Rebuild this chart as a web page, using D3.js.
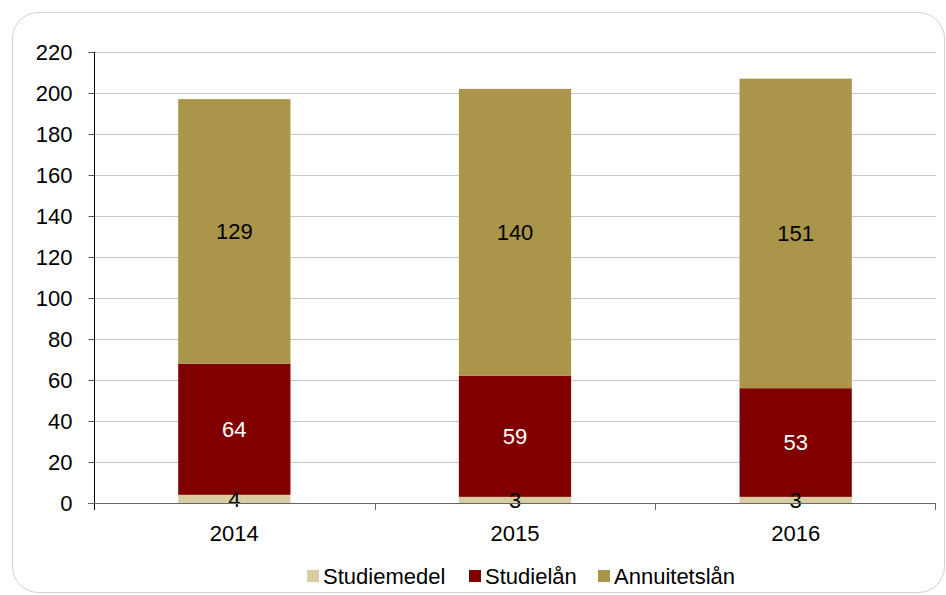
<!DOCTYPE html>
<html>
<head>
<meta charset="utf-8">
<script src="https://cdn.jsdelivr.net/npm/d3@7"></script>
<style>
  body { margin: 0; background: #fff; }
  svg text { font-family: "Liberation Sans", Arial, sans-serif; }
</style>
</head>
<body>
<div id="chart"></div>
<script>
// data
var years = ["2014", "2015", "2016"];
var seriesNames = ["Studiemedel", "Studielån", "Annuitetslån"];
var studiemedel = [4, 3, 3];
var studielan = [64, 59, 53];
var annuitetslan = [129, 140, 151];
var yTicks = [0, 20, 40, 60, 80, 100, 120, 140, 160, 180, 200, 220];

var colors = ["#d8cca1", "#800000", "#aa954b"];
var labelColors = ["#000", "#fff", "#000"];

var width = 946, height = 595;
var fs = 22;

var svg = d3.select("#chart").append("svg")
  .attr("width", width)
  .attr("height", height);

// frame
svg.append("rect")
  .attr("x", 12.5).attr("y", 12.5)
  .attr("width", 932).attr("height", 580)
  .attr("rx", 26).attr("ry", 26)
  .attr("fill", "none")
  .attr("stroke", "#d0d0d0")
  .attr("stroke-width", 1);

var x = d3.scaleBand()
  .domain(years)
  .range([94, 936])
  .paddingInner(0.6)
  .paddingOuter(0.3);

var xOuter = d3.scaleBand().domain(years).range([94, 936]);

var y = d3.scaleLinear()
  .domain([0, 220])
  .range([503, 52]);

// grid
svg.append("g")
  .selectAll("line")
  .data(yTicks.slice(1))
  .enter().append("line")
  .attr("x1", 94).attr("x2", 936)
  .attr("y1", function(d) { return Math.round(y(d)) + 0.5; })
  .attr("y2", function(d) { return Math.round(y(d)) + 0.5; })
  .attr("stroke", "#c8c8c8")
  .attr("stroke-width", 1);

// stack
var rows = years.map(function(yr, i) {
  return {year: yr, s0: studiemedel[i], s1: studielan[i], s2: annuitetslan[i]};
});
var stack = d3.stack().keys(["s0", "s1", "s2"]);
var layers = stack(rows);

var layer = svg.append("g")
  .selectAll("g")
  .data(layers)
  .enter().append("g")
  .attr("fill", function(d, i) { return colors[i]; });

layer.selectAll("rect")
  .data(function(d) { return d; })
  .enter().append("rect")
  .attr("x", function(d) { return x(d.data.year); })
  .attr("width", x.bandwidth())
  .attr("y", function(d) { return y(d[1]); })
  .attr("height", function(d) { return y(d[0]) - y(d[1]); });

// value labels
layers.forEach(function(l, i) {
  svg.append("g")
    .selectAll("text")
    .data(l)
    .enter().append("text")
    .attr("x", function(d) { return x(d.data.year) + x.bandwidth() / 2; })
    .attr("y", function(d) { return (y(d[0]) + y(d[1])) / 2; })
    .attr("dy", "0.36em")
    .attr("text-anchor", "middle")
    .attr("font-size", fs)
    .attr("fill", labelColors[i])
    .text(function(d) { return d[1] - d[0]; });
});

// y axis
var yAxis = svg.append("g")
  .attr("transform", "translate(94.5,0)")
  .call(d3.axisLeft(y).tickValues(yTicks).tickSize(6).tickPadding(16));
yAxis.select(".domain").remove();
yAxis.selectAll(".tick line").attr("stroke", "#555");
yAxis.selectAll("text").attr("font-size", fs).attr("fill", "#000")
  .attr("font-family", "Liberation Sans, Arial, sans-serif");
svg.append("line")
  .attr("x1", 94.5).attr("x2", 94.5)
  .attr("y1", 52).attr("y2", 510)
  .attr("stroke", "#000");

// x axis
svg.append("line")
  .attr("x1", 88).attr("x2", 936)
  .attr("y1", 503.5).attr("y2", 503.5)
  .attr("stroke", "#666");
svg.append("g")
  .selectAll("line")
  .data(years.slice(1).concat(["end"]))
  .enter().append("line")
  .attr("x1", function(d, i) { return i < 2 ? Math.round(xOuter(d)) + 0.5 : 935.5; })
  .attr("x2", function(d, i) { return i < 2 ? Math.round(xOuter(d)) + 0.5 : 935.5; })
  .attr("y1", 503).attr("y2", 510)
  .attr("stroke", "#666");

svg.append("g")
  .selectAll("text")
  .data(years)
  .enter().append("text")
  .attr("x", function(d) { return x(d) + x.bandwidth() / 2; })
  .attr("y", 541)
  .attr("text-anchor", "middle")
  .attr("font-size", fs)
  .text(function(d) { return d; });

// legend
var legendX = [307, 469, 598];
var legend = svg.append("g")
  .selectAll("g")
  .data(seriesNames)
  .enter().append("g")
  .attr("transform", function(d, i) { return "translate(" + legendX[i] + ",570)"; });
legend.append("rect")
  .attr("width", 12).attr("height", 12)
  .attr("fill", function(d, i) { return colors[i]; });
legend.append("text")
  .attr("x", 16).attr("y", 14)
  .attr("font-size", fs)
  .text(function(d) { return d; });
</script>
</body>
</html>
